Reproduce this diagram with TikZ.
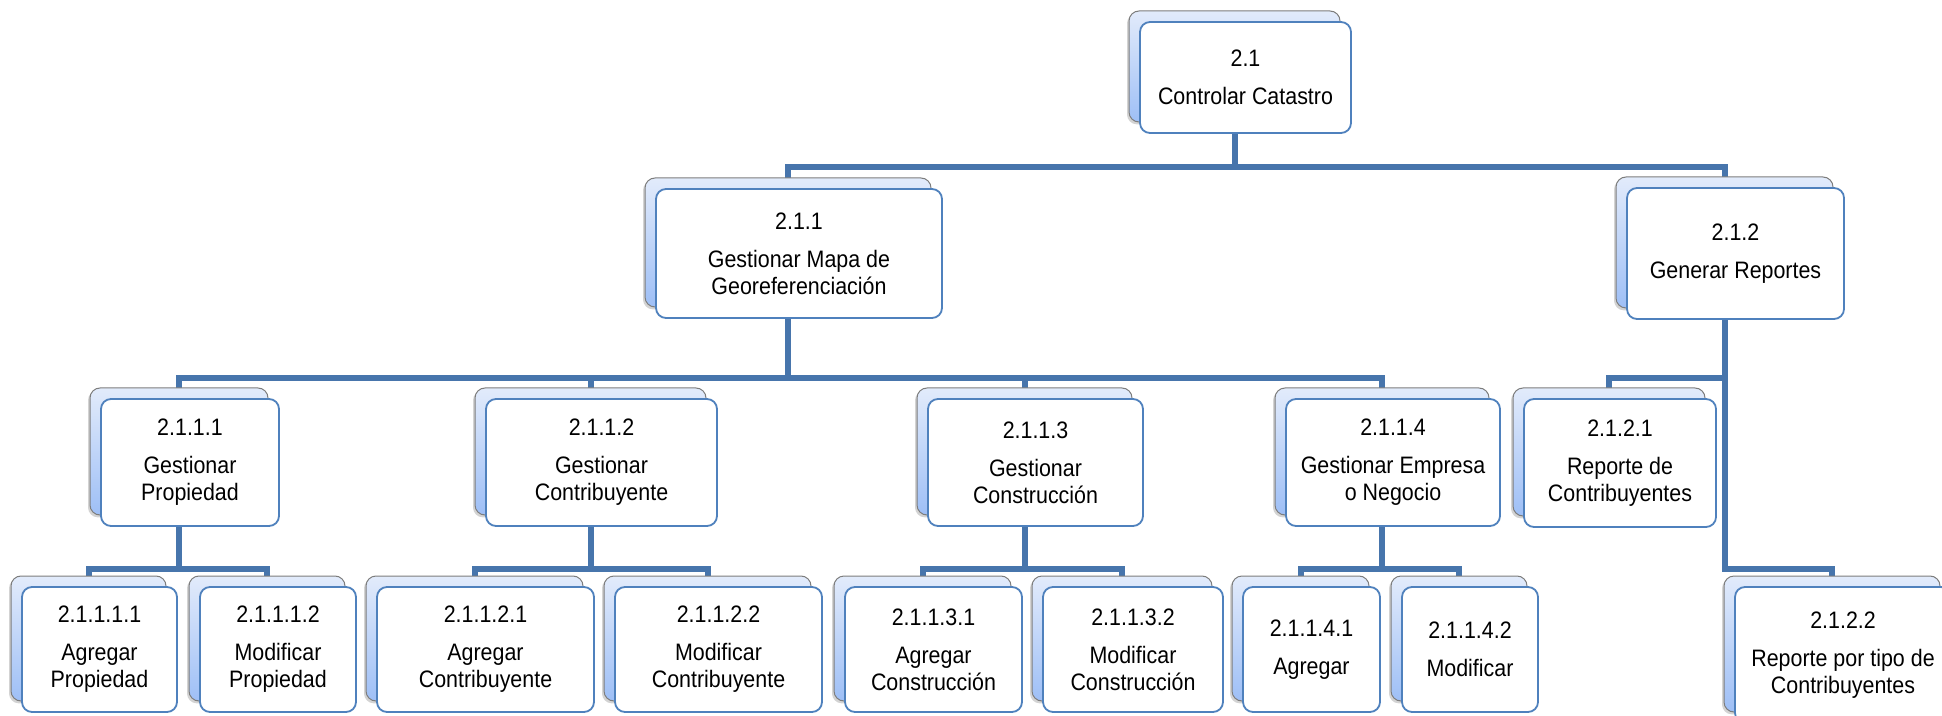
\documentclass[tikz,border=0pt]{standalone}
\usepackage{fontspec}
\setmainfont{Liberation Sans}[FakeStretch=0.9]
\usetikzlibrary{shadows,backgrounds}

\definecolor{connblue}{RGB}{71,117,172}
\definecolor{frameblue}{RGB}{79,129,189}
\definecolor{backtop}{RGB}{226,235,251}
\definecolor{backbot}{RGB}{158,191,246}
\definecolor{backedge}{RGB}{125,125,125}

\tikzset{
  backbox/.style={rectangle, rounded corners=5pt, draw=backedge, line width=0.5pt,
    top color=backtop, bottom color=backbot, outer sep=0pt, inner sep=0pt,
    drop shadow={shadow xshift=-1pt, shadow yshift=-1.2pt, opacity=0.35}},
  frontbox/.style={rectangle, rounded corners=5pt, draw=frameblue, line width=0.9pt,
    fill=white, outer sep=0pt, inner sep=1pt, align=center,
    font=\fontsize{11.9}{13.6}\selectfont},
  conn/.style={draw=connblue, line width=3pt},
}

% #1 name, #2 left, #3 top, #4 right, #5 bottom of the rear card (px), #6 label
\newcommand\wbsitem[6]{%
  \node[backbox, minimum width={(#4-#2)*0.5pt}, minimum height={(#5-#3)*0.5pt}]
    (#1b) at ({(#2+#4)/2},{(#3+#5)/2}) {};
  \node[frontbox, minimum width={(#4-#2)*0.5pt}, minimum height={(#5-#3)*0.5pt}]
    (#1) at ({(#2+#4)/2+11},{(#3+#5)/2+11}) {#6};
}

\begin{document}
\begin{tikzpicture}[x=0.5pt, y=-0.5pt]
\useasboundingbox (0,0) rectangle (1942,716);
\clip (0,0) rectangle (1942,716);

% level 1
\wbsitem{n21}{1129}{11}{1340}{122}{2.1\\[5.4pt]Controlar Catastro}
% level 2
\wbsitem{n211}{645}{178}{931}{307}{2.1.1\\[5.4pt]Gestionar Mapa de\\Georeferenciación}
\wbsitem{n212}{1616}{177}{1833}{308}{2.1.2\\[5.4pt]Generar Reportes}
% level 3
\wbsitem{n2111}{90}{388}{268}{515}{2.1.1.1\\[5.4pt]Gestionar\\Propiedad}
\wbsitem{n2112}{475}{388}{706}{515}{2.1.1.2\\[5.4pt]Gestionar\\Contribuyente}
\wbsitem{n2113}{917}{388}{1132}{515}{2.1.1.3\\[5.4pt]Gestionar\\Construcción}
\wbsitem{n2114}{1275}{388}{1489}{515}{2.1.1.4\\[5.4pt]Gestionar Empresa\\o Negocio}
\wbsitem{n2121}{1513}{388}{1705}{516}{2.1.2.1\\[5.4pt]Reporte de\\Contribuyentes}
% level 4
\wbsitem{n21111}{11}{576}{166}{701}{2.1.1.1.1\\[5.4pt]Agregar\\Propiedad}
\wbsitem{n21112}{189}{576}{345}{701}{2.1.1.1.2\\[5.4pt]Modificar\\Propiedad}
\wbsitem{n21121}{366}{576}{583}{701}{2.1.1.2.1\\[5.4pt]Agregar\\Contribuyente}
\wbsitem{n21122}{604}{576}{811}{701}{2.1.1.2.2\\[5.4pt]Modificar\\Contribuyente}
\wbsitem{n21131}{834}{576}{1011}{701}{2.1.1.3.1\\[5.4pt]Agregar\\Construcción}
\wbsitem{n21132}{1032}{576}{1212}{701}{2.1.1.3.2\\[5.4pt]Modificar\\Construcción}
\wbsitem{n21141}{1232}{576}{1369}{701}{2.1.1.4.1\\[5.4pt]Agregar}
\wbsitem{n21142}{1391}{576}{1527}{701}{2.1.1.4.2\\[5.4pt]Modificar}
\wbsitem{n2122}{1724}{576}{1940}{712}{2.1.2.2\\[5.4pt]Reporte por tipo de\\Contribuyentes}

% heights of the horizontal bars
\coordinate (bus1) at (0,167);
\coordinate (bus2) at (0,378);
\coordinate (bus3) at (0,569);

\begin{scope}[on background layer]
  % 2.1
  \draw[conn] (n21b.center |- n21.south) -- (n21b.center |- bus1) -| (n211b.north);
  \draw[conn] (n21b.center |- n21.south) -- (n21b.center |- bus1) -| (n212b.north);
  % 2.1.1
  \foreach \c in {n2111,n2112,n2113,n2114}
    \draw[conn] (n211b.center |- n211.south) -- (n211b.center |- bus2) -| (\c b.north);
  % 2.1.2
  \draw[conn] (n212b.center |- n212.south) -- (n212b.center |- bus2) -| (n2121b.north);
  \draw[conn] (n212b.center |- n212.south) -- (n212b.center |- bus3) -| (n2122b.north);
  % 2.1.1.x
  \draw[conn] (n2111b.center |- n2111.south) -- (n2111b.center |- bus3) -| (n21111b.north);
  \draw[conn] (n2111b.center |- n2111.south) -- (n2111b.center |- bus3) -| (n21112b.north);
  \draw[conn] (n2112b.center |- n2112.south) -- (n2112b.center |- bus3) -| (n21121b.north);
  \draw[conn] (n2112b.center |- n2112.south) -- (n2112b.center |- bus3) -| (n21122b.north);
  \draw[conn] (n2113b.center |- n2113.south) -- (n2113b.center |- bus3) -| (n21131b.north);
  \draw[conn] (n2113b.center |- n2113.south) -- (n2113b.center |- bus3) -| (n21132b.north);
  \draw[conn] (n2114b.center |- n2114.south) -- (n2114b.center |- bus3) -| (n21141b.north);
  \draw[conn] (n2114b.center |- n2114.south) -- (n2114b.center |- bus3) -| (n21142b.north);
\end{scope}
\end{tikzpicture}
\end{document}
